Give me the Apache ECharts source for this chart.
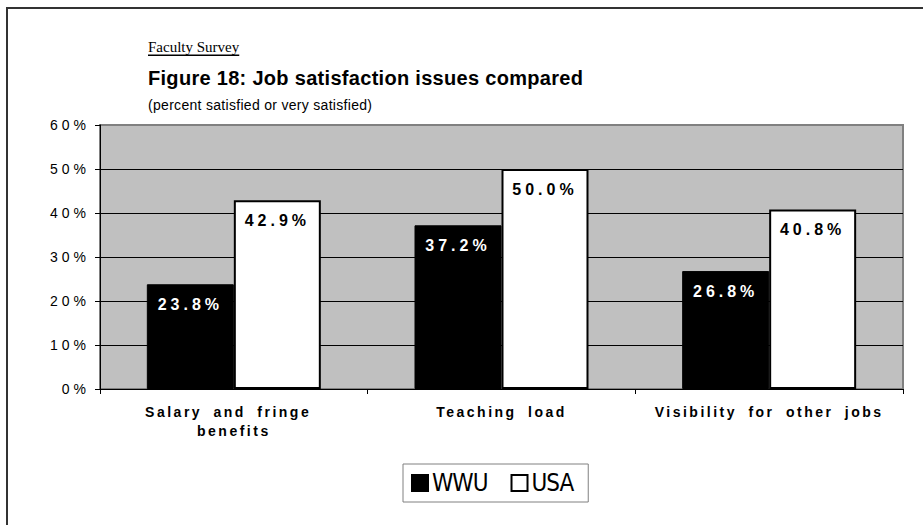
<!DOCTYPE html>
<html>
<head>
<meta charset="utf-8">
<script src="https://cdn.jsdelivr.net/npm/echarts@6/dist/echarts.min.js"></script>
<style>
    html, body { margin: 0; padding: 0; background: #fff; }
    #chart { width: 923px; height: 525px; }
    /* Excel-style letter spacing on the svg texts */
    #chart text[style*="Arial"] { letter-spacing: 4px; }
    #chart text[style*="Arial"][style*="bold"][style*="14px"] { letter-spacing: 2.5px; word-spacing: 5px; }
    #chart text[style*="Liberation Sans"] { letter-spacing: 0.3px; }
    #chart text[style*="Condensed"] { letter-spacing: -1px; }
    #chart text[style*="Liberation Serif"] { text-decoration: underline; }
</style>
</head>
<body>
<div id="chart"></div>
<script>
//分类
var categories = ['Salary and fringe benefits', 'Teaching load', 'Visibility for other jobs'];
//WWU 数值
var wwuData = [23.8, 37.2, 26.8];
//USA 数值
var usaData = [42.9, 50.0, 40.8];
//纵轴刻度
var yTicks = [0, 10, 20, 30, 40, 50, 60];

var chart = echarts.init(document.getElementById('chart'), null, { renderer: 'svg' });

var labelFmt = function (p) {
    return p.value.toFixed(1) + '%';
};

var option = {
    backgroundColor: '#fff',
    animation: false,
    title: [{
        text: 'Faculty Survey',
        left: 143, top: 34,
        textStyle: { fontFamily: 'Liberation Serif', fontSize: 15, fontWeight: 'normal', color: '#000' }
    }, {
        text: 'Figure 18: Job satisfaction issues compared',
        left: 143, top: 63,
        textStyle: { fontFamily: 'Liberation Sans', fontSize: 20, fontWeight: 'bold', color: '#000' }
    }, {
        text: '(percent satisfied or very satisfied)',
        left: 143, top: 93,
        textStyle: { fontFamily: 'Liberation Sans', fontSize: 14, fontWeight: 'normal', color: '#000' }
    }],
    graphic: [{
        type: 'rect',
        shape: { x: 7, y: 8, width: 1000, height: 600 },
        style: { fill: 'none', stroke: '#333', lineWidth: 2 }
    }],
    legend: {
        data: ['WWU', 'USA'],
        left: 403, top: 464,
        padding: [7, 12, 7, 8],
        itemGap: 20,
        itemWidth: 16, itemHeight: 16,
        icon: 'rect',
        borderColor: '#808080', borderWidth: 1,
        backgroundColor: '#fff',
        textStyle: { fontFamily: 'DejaVu Sans Condensed', fontSize: 24, color: '#000', padding: [0, 0, 0, -1] }
    },
    grid: {
        left: 100, right: 20, top: 125, bottom: 136,
        show: true,
        backgroundColor: '#c0c0c0',
        borderColor: '#808080',
        borderWidth: 2
    },
    xAxis: {
        type: 'category',
        data: categories,
        axisLine: { lineStyle: { color: '#000', width: 1 } },
        axisTick: { show: true, length: 5, lineStyle: { color: '#000' } },
        axisLabel: {
            interval: 0, margin: 13,
            fontFamily: 'Arial', fontSize: 14, fontWeight: 'bold', color: '#000',
            lineHeight: 19, width: 160, overflow: 'break'
        }
    },
    yAxis: {
        type: 'value',
        min: yTicks[0], max: yTicks[yTicks.length - 1], interval: 10,
        axisLine: { show: true, lineStyle: { color: '#000', width: 1 } },
        axisTick: { show: true, length: 5, lineStyle: { color: '#000' } },
        axisLabel: {
            margin: 10,
            fontFamily: 'Arial', fontSize: 14, color: '#000',
            formatter: '{value}%'
        },
        splitLine: {
            lineStyle: { color: ['#000', '#000', '#000', '#000', '#000', '#000', 'transparent'], width: 1 }
        }
    },
    series: [{
        name: 'WWU',
        type: 'bar',
        data: wwuData,
        barGap: '0%',
        barCategoryGap: '35%',
        itemStyle: { color: '#000', borderColor: '#000', borderWidth: 1 },
        label: {
            show: true, position: 'insideTop', distance: 12,
            fontFamily: 'Arial', fontSize: 16, fontWeight: 'bold', color: '#fff',
            formatter: labelFmt
        }
    }, {
        name: 'USA',
        type: 'bar',
        data: usaData,
        itemStyle: { color: '#fff', borderColor: '#000', borderWidth: 2 },
        label: {
            show: true, position: 'insideTop', distance: 12,
            fontFamily: 'Arial', fontSize: 16, fontWeight: 'bold', color: '#000',
            formatter: labelFmt
        }
    }]
};

chart.setOption(option);
</script>
</body>
</html>
